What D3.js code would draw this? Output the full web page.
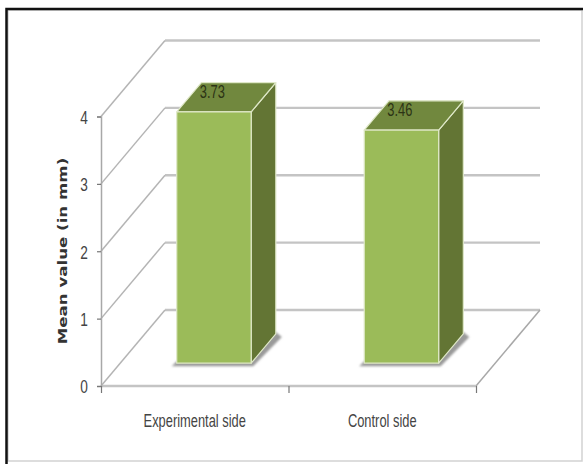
<!DOCTYPE html>
<html>
<head>
<meta charset="utf-8">
<script src="https://cdn.jsdelivr.net/npm/d3@7/dist/d3.min.js"></script>
<style>
  html, body { margin: 0; padding: 0; background: #fff; }
  svg { display: block; }
</style>
</head>
<body>
<svg id="chart" width="583" height="464"></svg>
<script>
const categories = ["Experimental side", "Control side"];
const meanValues = [3.73, 3.46];
const valueLabels = ["3.73", "3.46"];
const yTicks = [0, 1, 2, 3, 4];
const yTitle = "Mean value (in mm)";

const svg = d3.select("#chart");
const labelFont = "'Liberation Sans', sans-serif";
const narrow = 0.72;

// Plot box of the 3D column chart
const plot = { left: 101, right: 476, bottom: 386, top: 116.5 };
const depth = { dx: 64, dy: -76 };
const barFront = 0.3, barBack = 0.685, barFill = 0.397;

const x = d3.scaleBand().domain(categories).range([plot.left, plot.right]);
const y = d3.scaleLinear().domain([0, 4]).range([plot.bottom, plot.top]);
const edges = d3.scaleLinear().domain([0, 2]).range([plot.left, plot.right]);

// Oblique projection: z runs from the front of the floor (0) to the back wall (1)
const px = (xv, z) => xv + depth.dx * z;
const py = (v, z) => y(v) + depth.dy * z;
const pt = (xv, v, z) => [px(xv, z), py(v, z)];
const polyPath = pts => d3.line()(pts) + "Z";

const defs = svg.append("defs");
defs.append("filter").attr("id", "soft")
  .attr("x", "-20%").attr("y", "-20%").attr("width", "140%").attr("height", "140%")
  .append("feGaussianBlur").attr("stdDeviation", 1.2);

// Outer frame of the figure
svg.append("rect").attr("x", 8).attr("y", 10).attr("width", 574).attr("height", 451)
  .attr("fill", "#fff").attr("stroke", "#d2d2d2").attr("stroke-width", 1.5);
svg.append("path").attr("d", "M6.5,464V9H583").attr("fill", "none")
  .attr("stroke", "#111").attr("stroke-width", 2.5);

const gridColor = "#c4c4c4";
const grid = svg.append("g").attr("fill", "none").attr("stroke", gridColor);

// Back wall gridlines
grid.selectAll("line.back").data(yTicks).join("line").attr("class", "back")
  .attr("x1", px(plot.left, 1)).attr("x2", px(plot.right, 1))
  .attr("y1", d => py(d, 1)).attr("y2", d => py(d, 1))
  .attr("stroke-width", 2.4);

// Side wall diagonals
grid.selectAll("line.side").data(yTicks).join("line").attr("class", "side")
  .attr("x1", plot.left).attr("y1", d => y(d))
  .attr("x2", px(plot.left, 1)).attr("y2", d => py(d, 1))
  .attr("stroke", "#b4b4b4").attr("stroke-width", 1.5);

// Floor edges
grid.append("path")
  .attr("d", d3.line()([pt(plot.right, 0, 1), pt(plot.right, 0, 0)]))
  .attr("stroke", "#a8a8a8").attr("stroke-width", 1.5);
grid.append("line")
  .attr("x1", plot.left).attr("x2", plot.right)
  .attr("y1", y(0)).attr("y2", y(0))
  .attr("stroke-width", 2.4);

// Value axis; tick text is squeezed horizontally around its centre
const yAxis = svg.append("g").attr("transform", `translate(${plot.left},0)`)
  .call(d3.axisLeft(y).tickValues(yTicks).tickSize(4).tickFormat(d3.format("d")));
yAxis.select(".domain").attr("stroke", "#a8a8a8").attr("stroke-width", 1.5);
yAxis.selectAll(".tick line").attr("stroke", "#777").attr("stroke-width", 1.2);
yAxis.selectAll(".tick text")
  .attr("font-family", labelFont).attr("font-size", 19).attr("fill", "#444")
  .attr("text-anchor", "middle")
  .attr("x", 0).attr("dy", "0.36em")
  .attr("transform", `translate(-17,0) scale(${narrow},1)`);

// Category axis: ticks on band boundaries, labels under band centres
const xAxis = svg.append("g").attr("transform", `translate(0,${plot.bottom})`)
  .call(d3.axisBottom(edges).tickValues([0, 1, 2]).tickSize(7).tickFormat(""));
xAxis.select(".domain").remove();
xAxis.selectAll(".tick line").attr("stroke", "#777").attr("stroke-width", 1.2);

svg.append("g").selectAll("text").data(categories).join("text")
  .attr("transform", d => `translate(${x(d) + x.bandwidth() / 2},427) scale(${narrow},1)`)
  .attr("text-anchor", "middle")
  .attr("font-family", labelFont).attr("font-size", 17.9).attr("fill", "#444")
  .text(d => d);

// Axis title
svg.append("text")
  .attr("transform", "translate(67,251) rotate(-90) scale(1.3,1)")
  .attr("text-anchor", "middle")
  .attr("font-family", "'DejaVu Sans', sans-serif").attr("font-weight", "bold")
  .attr("font-size", 12.8).attr("fill", "#333")
  .text(yTitle);

// Columns
const rows = categories.map((c, i) => {
  const w = x.bandwidth() * barFill;
  const x0 = x(c) + (x.bandwidth() - w) / 2;
  return { c, v: meanValues[i], label: valueLabels[i], x0, x1: x0 + w };
});

const bars = svg.append("g").selectAll("g").data(rows).join("g");

// Contact shadow on the floor
bars.append("path")
  .attr("d", d => polyPath([
    [px(d.x0, barFront) - 5, py(0, barFront) + 3],
    [px(d.x1, barFront) + 2, py(0, barFront) + 3],
    [px(d.x1, barBack) + 6, py(0, barBack) + 3],
    [px(d.x1, barBack), py(0, barBack) - 2],
    [px(d.x0, barFront), py(0, barFront) - 2]
  ]))
  .attr("fill", "#9a9a9a").attr("filter", "url(#soft)");

const applyEdge = sel => sel.attr("stroke", "#dfe8c8")
  .attr("stroke-width", 1.2).attr("stroke-linejoin", "round");

bars.append("path")
  .attr("d", d => polyPath([
    pt(d.x1, 0, barFront), pt(d.x1, 0, barBack), pt(d.x1, d.v, barBack), pt(d.x1, d.v, barFront)
  ]))
  .attr("fill", "#637534").call(applyEdge);

bars.append("path")
  .attr("d", d => polyPath([
    pt(d.x0, d.v, barFront), pt(d.x1, d.v, barFront), pt(d.x1, d.v, barBack), pt(d.x0, d.v, barBack)
  ]))
  .attr("fill", "#71883e").call(applyEdge);

bars.append("path")
  .attr("d", d => polyPath([
    pt(d.x0, 0, barFront), pt(d.x1, 0, barFront), pt(d.x1, d.v, barFront), pt(d.x0, d.v, barFront)
  ]))
  .attr("fill", "#9bbb59").call(applyEdge);

// Value labels sit on the top face
bars.append("text")
  .attr("transform", d => `translate(${px(d.x0, barBack) + 11},${py(d.v, barBack) + 15}) scale(${narrow},1)`)
  .attr("text-anchor", "middle")
  .attr("font-family", labelFont).attr("font-size", 17.9).attr("fill", "#2c3315")
  .text(d => d.label);
</script>
</body>
</html>
